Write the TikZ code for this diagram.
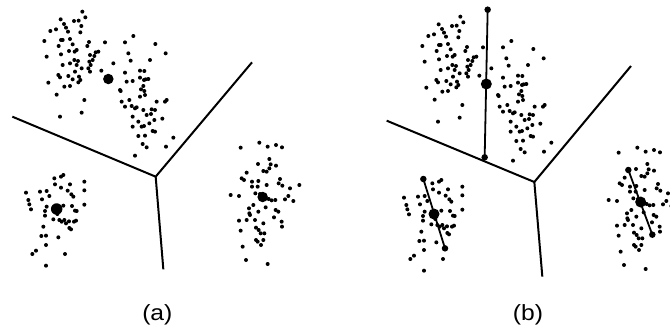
\documentclass[tikz,border=0pt]{standalone}
\usepackage{fontspec}
\setsansfont{Liberation Sans}
\newcommand\scatterdots{%
\foreach \x/\y in {247/35,256/52,182/58,222/63,236/62,192/72,244/78,168/88,198/83,151/93,204/95,241/97,133/123,183/120,188/120,210/117,267/126,176/138,218/133,262/138,230/150,287/157,295/155,315/127,140/170,183/163,207/153,224/155,223/180,234/183,270/165,283/168,278/180,188/195,210/190,230/195,268/185,272/195,225/215,245/205,265/205,270/215,175/225,180/232,205/228,218/238,237/230,241/240,235/247,145/248,193/260,210/258,170/284,253/300,180/350,245/338,304/212,
400/108,375/127,466/132,497/160,385/160,392/182,450/180,340/190,375/218,420/212,433/213,445/237,437/238,380/245,398/243,420/233,432/240,430/258,360/270,362/273,423/268,433/273,388/300,365/305,420/290,435/285,500/300,495/305,375/320,395/318,410/322,405/325,470/305,455/328,465/330,430/330,440/345,487/356,453/342,398/350,463/360,415/365,432/378,448/370,425/380,458/393,465/395,398/380,415/408,435/407,520/413,428/432,498/440,440/442,405/467,
190/525,183/530,163/535,253/545,165/553,210/553,183/563,120/575,140/573,203/572,214/583,78/578,126/598,148/588,220/590,85/600,253/571,88/613,140/620,190/617,216/618,253/614,93/628,225/632,230/633,135/633,160/658,178/660,185/665,193/660,207/664,222/665,228/662,172/642,135/647,198/670,130/680,208/684,213/688,124/708,138/707,175/712,138/735,108/752,97/762,195/762,138/797,
778/428,803/440,828/435,846/442,722/443,808/477,774/492,812/493,828/497,740/518,725/535,732/540,790/513,800/515,808/505,840/537,836/550,756/545,775/543,800/555,756/560,773/560,847/557,865/588,898/555,870/565,692/585,717/588,766/580,780/582,806/597,815/601,826/600,855/598,880/603,747/625,760/615,827/630,835/635,748/640,750/645,775/635,797/622,740/660,765/660,822/652,845/665,717/662,846/680,722/692,768/683,790/670,776/690,782/700,793/700,768/720,773/725,790/720,728/740,783/735,738/780,803/792}
{\fill (\x,\y) circle (2pt);}}
\begin{document}
\begin{tikzpicture}[x=0.333333pt,y=-0.333333pt,
  bigdot/.style={circle,fill=black,inner sep=0pt,minimum size=10.5pt},
  enddot/.style={circle,fill=black,inner sep=0pt,minimum size=6.5pt},
  edge/.style={line width=2pt},
  seg/.style={line width=1.8pt},
  lbl/.style={font=\fontsize{22}{26}\selectfont\sffamily,anchor=base}]
\useasboundingbox (0,0) rectangle (2010,987);
\clip (0,0) rectangle (2010,987);
% ---------- panel (a)
\scatterdots
\node[bigdot] (ca1) at (325,237) {};
\node[bigdot,minimum size=11.5pt] (ca2) at (170,627) {};
\node[bigdot] (ca3) at (788,591) {};
\coordinate (ja) at (467,530);
\coordinate (la) at (37,350);
\coordinate (ra) at (756,187);
\coordinate (da) at (490,808);
\draw[edge] (la) -- (ja) -- (ra);
\draw[edge] (ja) -- (da);
\node[lbl] (laba) at (472,962) {\scalebox{1.12}[1]{(a)}};
% ---------- panel (b)
\begin{scope}[shift={(1134,15)}]
\scatterdots
\end{scope}
\coordinate (jb) at (1603,546);
\coordinate (lb) at (1160,362);
\coordinate (rb) at (1893,198);
\coordinate (db) at (1627,830);
\draw[edge] (lb) -- (jb) -- (rb);
\draw[edge] (jb) -- (db);
\node[enddot] (t1) at (1463,29) {};
\node[enddot] (b1) at (1454,472) {};
\node[enddot] (t2) at (1270,537) {};
\node[enddot] (b2) at (1335,745) {};
\node[enddot] (t3) at (1885,510) {};
\node[enddot] (b3) at (1957,704) {};
\draw[seg] (t1.center) -- (b1.center);
\draw[seg] (t2.center) -- (b2.center);
\draw[seg] (t3.center) -- (b3.center);
\node[bigdot,minimum size=11pt] (cb1) at (1459,252) {};
\node[bigdot,minimum size=11pt] (cb2) at (1302,642) {};
\node[bigdot,minimum size=11pt] (cb3) at (1922,606) {};
\node[lbl] (labb) at (1584,962) {\scalebox{1.12}[1]{(b)}};
\end{tikzpicture}
\end{document}
